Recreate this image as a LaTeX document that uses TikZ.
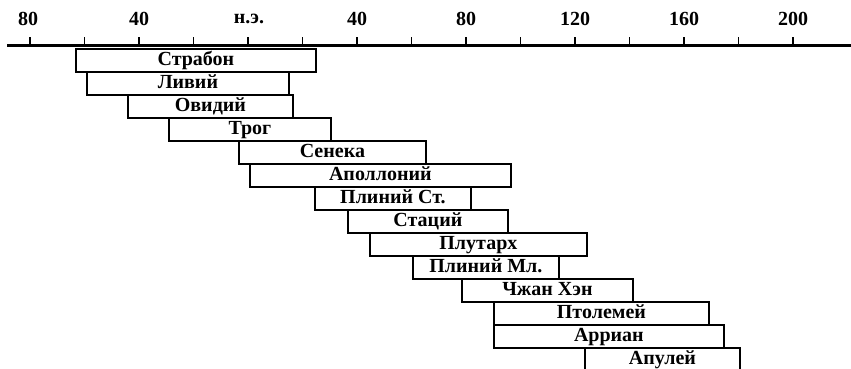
\documentclass[tikz,border=0pt]{standalone}
\usepackage{fontspec}
\setmainfont{Liberation Serif}
\begin{document}
\begin{tikzpicture}[x=1pt,y=-1pt,
  bar/.style={draw, line width=1.8pt, inner sep=0pt, anchor=north west,
    minimum height=23pt, font=\fontsize{20}{20}\selectfont\bfseries,
    text height=14pt, text depth=3pt},
  tick/.style={line width=1.6pt},
  axisline/.style={line width=3pt},
  year/.style={font=\fontsize{20}{20}\selectfont\bfseries, inner sep=0pt}]
\useasboundingbox (0,0) rectangle (851,369);
\begin{scope}
\clip (0,0) rectangle (851,369);
% axis
\coordinate (axL) at (7,46);
\coordinate (axR) at (851,46);
\draw[axisline] (axL) -- (axR);
\foreach \yr in {-80,-60,...,200}{
  \draw[tick] ({248+2.725*\yr},46) -- ({248+2.725*\yr},37.5);
}
\node[year] (t1) at (28,18.5) {80};
\node[year] (t2) at (139,18.5) {40};
\node[year] (t3) at (249,18.5) {н.э.};
\node[year] (t4) at (357,18.5) {40};
\node[year] (t5) at (466,18.5) {80};
\node[year] (t6) at (575,18.5) {120};
\node[year] (t7) at (684,18.5) {160};
\node[year] (t8) at (793,18.5) {200};
% bars
\node[bar, minimum width=240pt] (b0) at (75,48) {Страбон};
\node[bar, minimum width=202pt] (b1) at (86,71) {Ливий};
\node[bar, minimum width=165pt] (b2) at (127,94) {Овидий};
\node[bar, minimum width=162pt] (b3) at (168,117) {Трог};
\node[bar, minimum width=187pt] (b4) at (238,140) {Сенека};
\node[bar, minimum width=261pt] (b5) at (249,163) {Аполлоний};
\node[bar, minimum width=156pt] (b6) at (314,186) {Плиний Ст.};
\node[bar, minimum width=160pt] (b7) at (347,209) {Стаций};
\node[bar, minimum width=217pt] (b8) at (369,232) {Плутарх};
\node[bar, minimum width=146pt] (b9) at (412,255) {Плиний Мл.};
\node[bar, minimum width=171pt] (b10) at (461,278) {Чжан Хэн};
\node[bar, minimum width=215pt] (b11) at (493,301) {Птолемей};
\node[bar, minimum width=230pt] (b12) at (493,324) {Арриан};
\node[bar, minimum width=155pt] (b13) at (584,347) {Апулей};
\end{scope}
\end{tikzpicture}
\end{document}
